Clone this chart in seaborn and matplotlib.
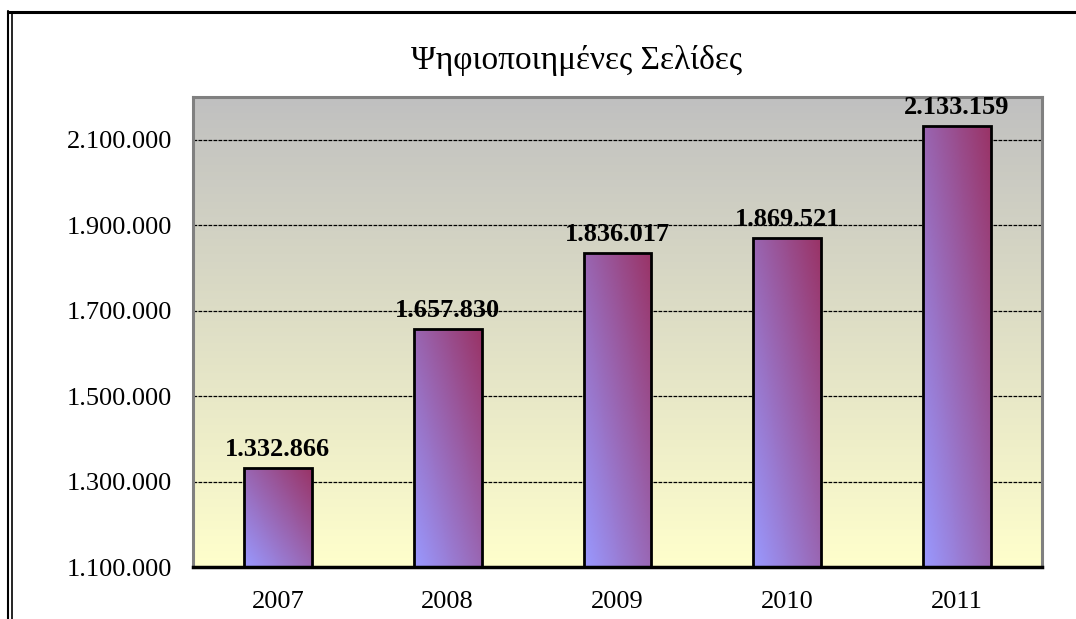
import numpy as np
import pandas as pd
import matplotlib
matplotlib.use('Agg')
import matplotlib.pyplot as plt
from matplotlib.colors import LinearSegmentedColormap
from matplotlib.lines import Line2D
import seaborn as sns

# Dados
anos = ['2007', '2008', '2009', '2010', '2011']
paginas = [1332866, 1657830, 1836017, 1869521, 2133159]
titulo = 'Ψηφιοποιημένες Σελίδες'
y_ticks = [1100000, 1300000, 1500000, 1700000, 1900000, 2100000]

df = pd.DataFrame({'ano': anos, 'paginas': paginas})

def fmt(v):
    return f'{v:,}'.replace(',', '.')

sns.set_style('white')
plt.rcParams['font.family'] = ['Liberation Serif', 'DejaVu Serif']
plt.rcParams['text.color'] = 'black'
plt.rcParams['xtick.color'] = 'black'
plt.rcParams['ytick.color'] = 'black'

fig = plt.figure(figsize=(10.76, 6.19), dpi=100)
ax = fig.add_axes([193/1076, 1 - 567/619, (1042 - 193)/1076, (567 - 97)/619])

sns.barplot(data=df, x='ano', y='paginas', ax=ax, width=0.4,
            color='white', edgecolor='black', linewidth=2, zorder=3)

y0, y1 = 1100000, 2200000

# fundo em degradê (cinza em cima, amarelo claro embaixo)
fundo = LinearSegmentedColormap.from_list('fundo', ['#FFFFCC', '#C0C0C0'])
g = np.linspace(0, 1, 256).reshape(-1, 1)
ax.imshow(g, cmap=fundo, origin='lower', aspect='auto',
          extent=[-0.5, 4.5, y0, y1], zorder=0)

# barras em degradê diagonal (azul -> vinho)
barra_cmap = LinearSegmentedColormap.from_list('barra', ['#9999FF', '#993366'])
xx, yy = np.meshgrid(np.linspace(0, 1, 64), np.linspace(0, 1, 128))
grad = (xx + yy) / 2
for p in ax.patches:
    x = p.get_x()
    w = p.get_width()
    top = p.get_y() + p.get_height()
    p.set_facecolor('none')
    im = ax.imshow(grad, cmap=barra_cmap, origin='lower', aspect='auto',
                   extent=[x, x + w, y0, top], zorder=2)
    im.set_clip_path(p)
    ax.annotate(fmt(int(top)), (x + w / 2, top), xytext=(0, 5),
                textcoords='offset points', ha='center', va='bottom',
                fontsize=19, fontweight='bold', color='black', zorder=5)

ax.set_xlim(-0.5, 4.5)
ax.set_ylim(y0, y1)

ax.set_yticks(y_ticks)
ax.set_yticklabels([fmt(v) for v in y_ticks], fontsize=19)
ax.set_xticklabels(anos, fontsize=19)
ax.tick_params(axis='y', length=0, pad=15)
ax.tick_params(axis='x', which='major', length=0, pad=17)
ax.set_xticks(np.arange(-0.5, 5, 1), minor=True)
ax.tick_params(axis='x', which='minor', length=6, width=1, color='black', direction='out')

ax.grid(axis='y', color='black', linestyle=(0, (3, 1)), linewidth=0.9, zorder=1)
ax.set_axisbelow(True)
for lado in ['left', 'top', 'right']:
    ax.spines[lado].set_color('#808080')
    ax.spines[lado].set_linewidth(2.2)
ax.spines['bottom'].set_color('black')
ax.spines['bottom'].set_linewidth(2.5)
ax.set_xlabel('')
ax.set_ylabel('')

fig.text(577/1076, 1 - 60/619, titulo, ha='center', va='center', fontsize=24)

# moldura do gráfico
fig.add_artist(Line2D([8/1076, 8/1076], [0, 1 - 11/619], color='black', lw=1.5))
fig.add_artist(Line2D([11.5/1076, 11.5/1076], [0, 1 - 13/619], color='black', lw=1.2))
fig.add_artist(Line2D([8/1076, 1], [1 - 11.5/619, 1 - 11.5/619], color='black', lw=2.2))

fig.savefig('out.png', dpi=100)
